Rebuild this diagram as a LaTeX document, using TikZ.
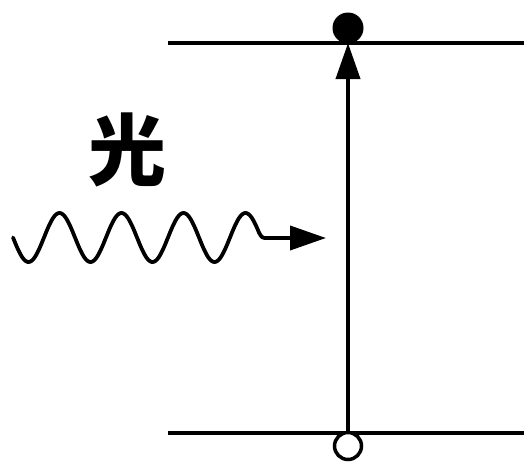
\documentclass[tikz,border=0pt]{standalone}
\usepackage{fontspec}
\newfontfamily\cjk{Noto Sans CJK SC}
\usetikzlibrary{arrows.meta}
\begin{document}
\begin{tikzpicture}[x=1pt,y=-1pt,
  level/.style={line width=3.8pt},
  conn/.style={line width=3.8pt,-{Triangle[length=36pt,width=24pt]}},
  wave/.style={line width=3.8pt,line join=round,line cap=round}]
\useasboundingbox (0,0) rectangle (524,463);
\coordinate (tl) at (168,43);
\coordinate (tr) at (524,43);
\coordinate (bl) at (168,433);
\coordinate (br) at (524,433);
\draw[level] (tl) -- (tr);
\draw[level] (bl) -- (br);
\coordinate (bot) at (348,433);
\coordinate (top) at (348,43);
\draw[conn] (bot) -- (top);
\node[circle,fill=black,minimum size=31pt,inner sep=0pt] (e) at (348,28) {};
\node[circle,draw=black,line width=3.5pt,minimum size=27pt,inner sep=0pt,fill=white] (h) at (348,446) {};
\node (light) at (127,150) {\cjk\bfseries\fontsize{78}{80}\selectfont 光};
\draw[wave] plot[domain=13:259,samples=200] (\x,{237.5+24.5*sin(5.80645*(\x-13))}) .. controls (262,238) .. (268,238) coordinate (we);
\coordinate (wtip) at (326,238);
\draw[conn] (we) -- (wtip);
\end{tikzpicture}
\end{document}
